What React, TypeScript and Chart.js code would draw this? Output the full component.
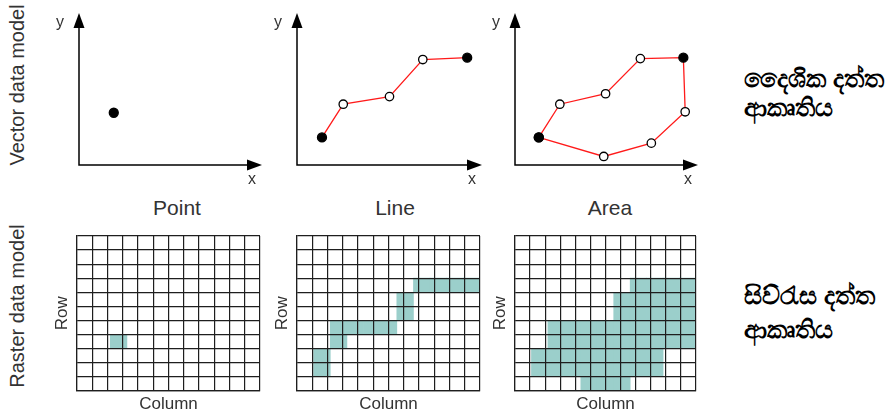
import React, { useEffect, useRef } from 'react';
import { Chart, registerables } from 'chart.js';

Chart.register(...registerables);

const FONT = '"Liberation Sans", Arial, Helvetica, sans-serif';
const TEXT = '#333333';
const TEAL = '#9bcfcb';
const GRID = '#1e1e1e';

// ---- Vector data model (x: 0..10, y: 0..8) ----
const pointXs = [1.9];
const pointYs = [2.75];
const pointFilled = [true];

const lineXs = [1.35, 2.5, 5.0, 6.8, 9.2];
const lineYs = [1.45, 3.2, 3.6, 5.55, 5.65];
const lineFilled = [true, false, false, false, true];

const areaXs = [1.3, 2.45, 4.95, 6.85, 9.2, 9.3, 7.45, 4.85];
const areaYs = [1.45, 3.2, 3.75, 5.6, 5.65, 2.8, 1.15, 0.45];
const areaFilled = [true, false, false, false, true, false, false, false];

const vectorTitles = ['Point', 'Line', 'Area'];
const axisNames = ['x', 'y'];

// ---- Raster data model: 11 x 11 grid, filled columns per row (row 0 = top) ----
const columnLabels = ['1', '2', '3', '4', '5', '6', '7', '8', '9', '10', '11'];
const pointRows: number[][] = [[], [], [], [], [], [], [], [2], [], [], []];
const lineRows: number[][] = [[], [], [], [7, 8, 9, 10], [6], [6], [2, 3, 4, 5], [2], [1], [1], []];
const areaRows: number[][] = [
  [], [], [],
  [7, 8, 9, 10],
  [6, 7, 8, 9, 10],
  [6, 7, 8, 9, 10],
  [2, 3, 4, 5, 6, 7, 8, 9, 10],
  [2, 3, 4, 5, 6, 7, 8, 9, 10],
  [1, 2, 3, 4, 5, 6, 7, 8],
  [1, 2, 3, 4, 5, 6, 7, 8],
  [4, 5, 6],
];
const rowTitle = 'Row';
const columnTitle = 'Column';

const sideLabels = [
  ['දෛශික දත්ත', 'ආකෘතිය'],
  ['සිව්රැස දත්ත', 'ආකෘතිය'],
];
const modelLabels = ['Vector data model', 'Raster data model'];

const arrowAxes = {
  id: 'arrowAxes',
  beforeDatasetsDraw(chart: any) {
    const { ctx, chartArea } = chart;
    const { left, right, top, bottom } = chartArea;
    ctx.save();
    ctx.strokeStyle = '#000';
    ctx.fillStyle = '#000';
    ctx.lineWidth = 1.5;
    ctx.beginPath();
    ctx.moveTo(left, top + 10);
    ctx.lineTo(left, bottom);
    ctx.lineTo(right - 10, bottom);
    ctx.stroke();
    ctx.beginPath();
    ctx.moveTo(left, top);
    ctx.lineTo(left - 5.5, top + 15);
    ctx.lineTo(left + 5.5, top + 15);
    ctx.closePath();
    ctx.fill();
    ctx.beginPath();
    ctx.moveTo(right, bottom);
    ctx.lineTo(right - 15, bottom - 5.5);
    ctx.lineTo(right - 15, bottom + 5.5);
    ctx.closePath();
    ctx.fill();
    ctx.font = `16px ${FONT}`;
    ctx.fillStyle = TEXT;
    ctx.textAlign = 'center';
    ctx.textBaseline = 'middle';
    ctx.fillText(axisNames[1], left - 19, top + 10);
    ctx.fillText(axisNames[0], right - 10, bottom + 15);
    ctx.restore();
  },
};

function vectorConfig(xs: number[], ys: number[], filled: boolean[], closed: boolean, pad: any) {
  const pts = xs.map((x, i) => ({ x, y: ys[i] }));
  const fl = closed ? [...filled, filled[0]] : filled;
  const data = closed ? [...pts, pts[0]] : pts;
  return {
    type: 'scatter',
    data: {
      datasets: [
        {
          data,
          showLine: xs.length > 1,
          borderColor: '#ff1a1a',
          borderWidth: 1.3,
          pointRadius: fl.map((f) => (f ? 4.5 : 4.2)),
          pointBackgroundColor: fl.map((f) => (f ? '#000' : '#fff')),
          pointBorderColor: '#000',
          pointBorderWidth: 1.3,
        },
      ],
    },
    options: {
      animation: false,
      responsive: false,
      events: [],
      layout: { padding: pad },
      scales: {
        x: { type: 'linear', display: false, min: 0, max: 10 },
        y: { type: 'linear', display: false, min: 0, max: 8 },
      },
      plugins: { legend: { display: false }, tooltip: { enabled: false } },
    },
    plugins: [arrowAxes],
  };
}

function rasterConfig(rows: number[][], padLeft: number) {
  const datasets = rows
    .map((cols, r) => ({
      data: columnLabels.map((_, c) => (cols.includes(c) ? [r, r + 1] : null)),
      backgroundColor: TEAL,
      borderWidth: 0,
      barPercentage: 1,
      categoryPercentage: 1,
      grouped: false,
    }))
    .filter((_, r) => rows[r].length > 0);
  const gridOpts = { color: GRID, lineWidth: 1.2, drawTicks: false, z: 1 };
  const borderOpts = { color: GRID, width: 1.2, z: 2 };
  const titleFont = { family: FONT, size: 17 };
  return {
    type: 'bar',
    data: { labels: columnLabels, datasets },
    options: {
      animation: false,
      responsive: false,
      events: [],
      layout: { padding: { left: padLeft, right: 5, top: 10, bottom: 0 } },
      scales: {
        x: { type: 'category', display: false, offset: true },
        xg: {
          type: 'linear',
          axis: 'x',
          position: 'bottom',
          min: 0,
          max: 11,
          ticks: { display: false, stepSize: 1 },
          grid: gridOpts,
          border: borderOpts,
          title: { display: true, text: columnTitle, font: titleFont, color: TEXT, padding: { top: 4, bottom: 0 } },
        },
        y: {
          type: 'linear',
          min: 0,
          max: 11,
          reverse: true,
          ticks: { display: false, stepSize: 1 },
          grid: gridOpts,
          border: borderOpts,
          title: { display: true, text: rowTitle, font: titleFont, color: TEXT, padding: { top: 4, bottom: 4 } },
        },
      },
      plugins: { legend: { display: false }, tooltip: { enabled: false } },
    },
  };
}

function ChartBox({ left, top, width, height, config }: any) {
  const ref = useRef<HTMLCanvasElement>(null);
  useEffect(() => {
    const chart = new Chart(ref.current as HTMLCanvasElement, config);
    return () => chart.destroy();
  }, []);
  return (
    <canvas
      ref={ref}
      width={width}
      height={height}
      style={{ position: 'absolute', left, top, width, height }}
    />
  );
}

export default function App() {
  const vTop = 0;
  const vH = 195;
  const vPad = (l: number, r: number) => ({ left: l, right: r, top: 13, bottom: 30 });
  const rTop = 226;
  const rH = 189;
  const titleCenters = [177, 395, 610];
  return (
    <div
      style={{
        position: 'absolute',
        left: 0,
        top: 0,
        width: 886,
        height: 415,
        overflow: 'hidden',
        background: '#fff',
        fontFamily: FONT,
        color: TEXT,
      }}
    >
      <ChartBox left={40} top={vTop} width={240} height={vH} config={vectorConfig(pointXs, pointYs, pointFilled, false, vPad(39, 18))} />
      <ChartBox left={260} top={vTop} width={240} height={vH} config={vectorConfig(lineXs, lineYs, lineFilled, false, vPad(37, 18))} />
      <ChartBox left={478} top={vTop} width={240} height={vH} config={vectorConfig(areaXs, areaYs, areaFilled, true, vPad(37, 20))} />

      <ChartBox left={45} top={rTop} width={220} height={rH} config={rasterConfig(pointRows, 3.6)} />
      <ChartBox left={265} top={rTop} width={220} height={rH} config={rasterConfig(lineRows, 3.6)} />
      <ChartBox left={483} top={rTop} width={218} height={rH} config={rasterConfig(areaRows, 3.6)} />

      {vectorTitles.map((t, i) => (
        <div
          key={t}
          style={{
            position: 'absolute',
            left: titleCenters[i] - 100,
            top: 196,
            width: 200,
            textAlign: 'center',
            fontSize: 21,
            lineHeight: '24px',
          }}
        >
          {t}
        </div>
      ))}

      {modelLabels.map((t, i) => (
        <div
          key={t}
          style={{
            position: 'absolute',
            left: 17 - 100,
            top: (i === 0 ? 85 : 306) - 12,
            width: 200,
            height: 24,
            lineHeight: '24px',
            fontSize: 20,
            textAlign: 'center',
            whiteSpace: 'nowrap',
            transform: 'rotate(-90deg)',
          }}
        >
          {t}
        </div>
      ))}

      {sideLabels.map((lines, i) => (
        <div
          key={i}
          style={{
            position: 'absolute',
            left: 744,
            top: i === 0 ? 64 : 278,
            fontSize: 25,
            fontWeight: 'bold',
            color: '#000',
            lineHeight: i === 0 ? '29px' : '34px',
            whiteSpace: 'nowrap',
          }}
        >
          {lines.map((l) => (
            <div key={l}>{l}</div>
          ))}
        </div>
      ))}
    </div>
  );
}
